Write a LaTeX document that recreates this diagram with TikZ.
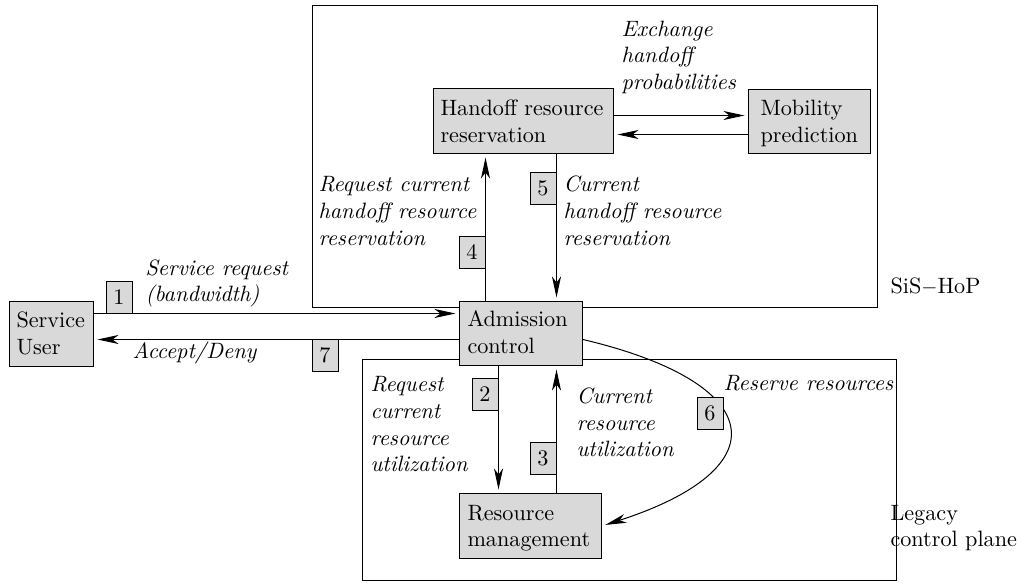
\documentclass[tikz,border=0pt]{standalone}
\usepackage{fontspec}
\setmainfont{lmroman10}[Extension=.otf,UprightFont=*-regular,ItalicFont=*-italic,BoldFont=*-bold,BoldItalicFont=*-bolditalic]
\usetikzlibrary{arrows.meta}
\definecolor{boxgray}{gray}{0.85}
\newcommand\fs{\fontsize{22.2}{26.7}\selectfont}
\newcommand\ml[1]{\begin{tabular}[t]{@{}l@{}}#1\end{tabular}}
\begin{document}
\begin{tikzpicture}[x=1pt,y=-1pt,line width=1pt,
  frame/.style={draw,inner sep=0,anchor=north west},
  box/.style={draw,fill=boxgray,inner sep=0,anchor=north west},
  num/.style={draw,fill=boxgray,minimum width=26pt,minimum height=32pt,inner sep=0,font=\fs},
  txt/.style={anchor=base west,inner sep=0,font=\fs},
  lbl/.style={anchor=base west,inner sep=0,font=\fs\itshape},
  arr/.style={-{Stealth[length=21pt,width=9pt,inset=6pt]},shorten >=3.5pt}]
\useasboundingbox (0,0) rectangle (1036,584);

% planes
\node[frame,minimum width=565pt,minimum height=302pt] (sis) at (312,5) {};
\node[frame,minimum width=534pt,minimum height=221pt] (legacy) at (362,359) {};
\node[txt] (sislbl) at (890,293) {SiS$-$HoP};
\node[txt] (legacylbl) at (890,520) {\ml{Legacy\\control plane}};

% functional blocks
\node[box,minimum width=84pt,minimum height=65pt] (su) at (9,301) {};
\node[box,minimum width=180pt,minimum height=65pt] (hrr) at (433,88) {};
\node[box,minimum width=122pt,minimum height=64pt] (mp) at (748,89) {};
\node[box,minimum width=123pt,minimum height=64pt] (ac) at (459,301) {};
\node[box,minimum width=142pt,minimum height=65pt] (rm) at (459,493) {};

\node[txt] (sut) at (16,327.7) {\ml{Service\\User}};
\node[txt] (hrrt) at (440,115.3) {\ml{Handoff resource\\reservation}};
\node[txt] (mpt) at (760,115.3) {\ml{Mobility\\prediction}};
\node[txt] (act) at (467,326.7) {\ml{Admission\\control}};
\node[txt] (rmt) at (467,520) {\ml{Resource\\management}};

% message flows
\draw[arr] ([yshift=20.5pt]su.east) -- ([yshift=20pt]ac.west);
\draw[arr] ([yshift=-6pt]ac.west) -- ([yshift=-5.5pt]su.east);
\draw[arr] ([xshift=-35.5pt]ac.north) -- ([xshift=-35.5pt]ac.north |- hrr.south);
\draw[arr] ([xshift=35.5pt]ac.north |- hrr.south) -- ([xshift=35.5pt]ac.north);
\draw[arr] ([yshift=5.5pt]hrr.east) -- ([yshift=5.5pt]hrr.east -| mp.west);
\draw[arr] ([yshift=-13.5pt]hrr.east -| mp.west) -- ([yshift=-13.5pt]hrr.east);
\draw[arr] ([xshift=-22.5pt]ac.south) -- ([xshift=-22.5pt]ac.south |- rm.north);
\draw[arr] ([xshift=35.5pt]ac.south |- rm.north) -- ([xshift=35.5pt]ac.south);
\draw[arr] ([yshift=-6pt]ac.east) .. controls (767,383) and (781,468) .. (rm.east);

% flow labels
\node[lbl] (l1) at (145,275) {\ml{Service request\\(bandwidth)}};
\node[lbl] (l7) at (132,358) {Accept/Deny};
\node[lbl] (l4) at (318,191.7) {\ml{Request current\\handoff resource\\reservation}};
\node[lbl] (l5) at (563,191.7) {\ml{Current\\handoff resource\\reservation}};
\node[lbl] (lx) at (621,36) {\ml{Exchange\\handoff\\probabilities}};
\node[lbl] (l2) at (370,391.7) {\ml{Request\\current\\resource\\utilization}};
\node[lbl] (l3) at (576,403.3) {\ml{Current\\resource\\utilization}};
\node[lbl] (l6) at (723,390) {Reserve resources};

% step numbers
\node[num] (n1) at (119,297) {1};
\node[num] (n7) at (325,355) {7};
\node[num] (n4) at (472,252) {4};
\node[num] (n5) at (543,188.5) {5};
\node[num] (n2) at (485,394) {2};
\node[num] (n3) at (543,458) {3};
\node[num] (n6) at (710,413) {6};
\end{tikzpicture}
\end{document}
